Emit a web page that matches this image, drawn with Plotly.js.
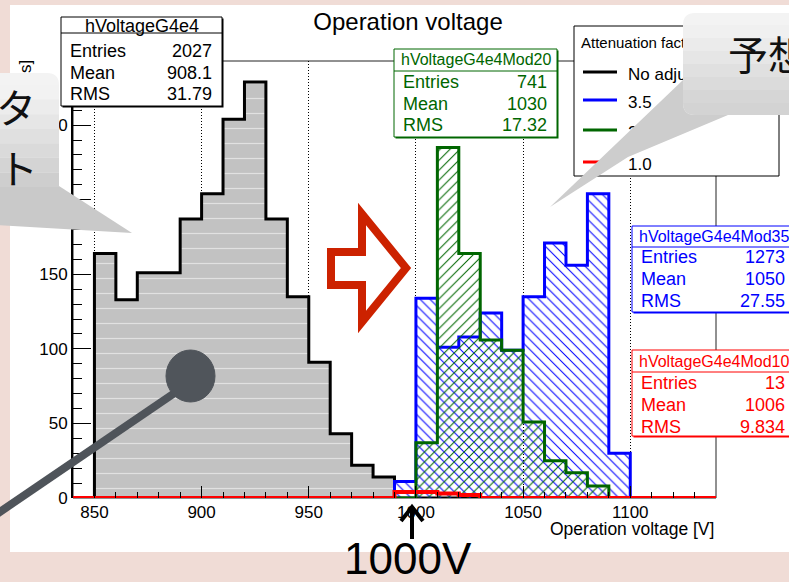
<!DOCTYPE html>
<html><head><meta charset="utf-8">
<script src="https://cdn.plot.ly/plotly-3.0.1.min.js"></script>
<style>html,body{margin:0;padding:0;background:#f0dcd6;overflow:hidden;} #chart{width:789px;height:582px;}</style>
</head><body><div id="chart"></div>
<script>
// ---------------- data ----------------
const binEdges = [840,850,860,870,880,890,900,910,920,930,940,950,960,970,980,990,1000,1010,1020,1030,1040,1050,1060,1070,1080,1090,1100,1110,1120,1130,1140];
const noAdjust = [0,164,133,151,151,187,204,254,279,187,135,91,43,22,14,0,0,0,0,0,0,0,0,0,0,0,0,0,0,0];
const att35    = [0,0,0,0,0,0,0,0,0,0,0,0,0,0,0,11,134,101,108,124,99,135,171,156,204,30,0,0,0,0];
const att20    = [0,0,0,0,0,0,0,0,0,0,0,0,0,0,0,0,37,235,164,106,99,51,25,17,8,0,0,0,0,0];
const att10    = [0,0,0,0,0,0,0,0,0,0,0,0,0,0,0,4,4,3,2,0,0,0,0,0,0,0,0,0,0,0];
const xTicks = [850,900,950,1000,1050,1100];
const yTicks = [0,50,100,150,200,250];
const statNames   = ['hVoltageG4e4','hVoltageG4e4Mod20','hVoltageG4e4Mod35','hVoltageG4e4Mod10'];
const statEntries = ['2027','741','1273','13'];
const statMeans   = ['908.1','1030','1050','1006'];
const statRMS     = ['31.79','17.32','27.55','9.834'];
const statLabels  = ['Entries','Mean','RMS'];
const legendHeader = 'Attenuation factor';
const legendLabels = ['No adjustment','3.5','2.0','1.0'];
const titleText = 'Operation voltage';
const xTitleText = 'Operation voltage [V]';
const yTitleVisible = 's]';

// ---------------- layout helpers (pixel -> paper) ----------------
const W=789, H=582, PL=73, PR=716, PT=61, PB=498;
const fx = px => (px-PL)/(PR-PL);
const fy = py => (PB-py)/(PB-PT);
const P = (px,py) => fx(px).toFixed(5)+','+fy(py).toFixed(5);
const FONT = 'Liberation Sans, Arial, Helvetica, sans-serif';
const JFONT = 'Noto Sans CJK JP, sans-serif';

const colors = ['#000000','#006600','#0000ff','#ff0000'];
const seriesColors = ['#000000','#0000ff','#006600','#ff0000'];

// ---------------- traces ----------------
function step(vals, color, width, fillcolor, pattern){
  const t = {type:'scatter', mode:'lines', x:binEdges, y:vals.concat([vals[vals.length-1]]),
    line:{shape:'hv', color:color, width:width}, cliponaxis:false, hoverinfo:'skip'};
  if (fillcolor){ t.fill='tozeroy'; t.fillcolor=fillcolor; }
  if (pattern){ t.fillpattern = pattern; }
  return t;
}
const traces = [
  step(noAdjust, seriesColors[0], 3, '#c2c2c2', {shape:'-', fgcolor:'#ffffff', fillmode:'overlay', size:15, solidity:0.08}),
  step(att35, seriesColors[1], 3, 'rgba(0,0,0,0)', {shape:'\\', fgcolor:'#0000ff', bgcolor:'rgba(0,0,0,0)', size:7, solidity:0.15}),
  step(att20, seriesColors[2], 3, 'rgba(0,0,0,0)', {shape:'/', fgcolor:'#006600', bgcolor:'rgba(0,0,0,0)', size:7, solidity:0.15}),
  step(att10, seriesColors[3], 4, null, null)
];

// ---------------- shapes ----------------
const shapes = [];
const annotations = [];
function rectPx(x0,y0,x1,y1,opt){ return Object.assign({type:'rect', xref:'paper', yref:'paper', x0:fx(x0), x1:fx(x1), y0:fy(y1), y1:fy(y0), layer:'above'}, opt); }
function linePx(x0,y0,x1,y1,color,width){ return {type:'line', xref:'paper', yref:'paper', x0:fx(x0), y0:fy(y0), x1:fx(x1), y1:fy(y1), line:{color:color,width:width}, layer:'above'}; }
function pathPx(d, opt){ return Object.assign({type:'path', xref:'paper', yref:'paper', path:d, layer:'above'}, opt); }
function txt(px,py,text,size,color,xanchor,extra){
  annotations.push(Object.assign({xref:'paper', yref:'paper', x:fx(px), y:fy(py), text:text, showarrow:false,
    xanchor:xanchor||'left', yanchor:'middle', font:{family:FONT, size:size, color:color||'#000'}}, extra||{}));
}
function shapeText(px,py,text,size,color){
  shapes.push(rectPx(px,py-11,px+260,py+11,{line:{width:0}, fillcolor:'rgba(0,0,0,0)',
    label:{text:text, textposition:'middle left', padding:0, font:{family:FONT,size:size,color:color}}}));
}

// slide background + frame
shapes.push(rectPx(10,5,805,552,{fillcolor:'#ffffff', line:{width:0}, layer:'below'}));
shapes.push({type:'rect', xref:'paper', yref:'paper', x0:0,x1:1,y0:0,y1:1, line:{color:'#222',width:1}, layer:'below'});

// red outline arrow
shapes.push(pathPx('M'+P(331,252)+' L'+P(362,252)+' L'+P(362,214)+' L'+P(406,268)+' L'+P(362,322)+' L'+P(362,285)+' L'+P(331,285)+' Z',
  {line:{color:'#cc2200',width:8}, fillcolor:'rgba(0,0,0,0)'}));

// hand drawn pointer
shapes.push(pathPx('M'+P(176,392)+' L'+P(-12,520), {line:{color:'#4f545a',width:8}}));
shapes.push({type:'circle', xref:'paper', yref:'paper', x0:fx(166), x1:fx(215), y0:fy(402), y1:fy(350), fillcolor:'#50555b', line:{color:'#50555b',width:1}, layer:'above'});

// stat boxes
const boxGeo = [
  {x0:61, x1:222, y0:17, ys:33, y1:106, tsize:18, ty:25.5, rows:[51,73,94]},
  {x0:394,x1:557, y0:49, ys:71, y1:137, tsize:16, ty:60,  rows:[82,104,125]},
  {x0:632,x1:795, y0:226,ys:247,y1:312, tsize:16, ty:236.5,rows:[257,279,301]},
  {x0:632,x1:795, y0:350,ys:372,y1:436, tsize:16, ty:361, rows:[383,405,427]}
];
boxGeo.forEach((g,i)=>{
  const c = colors[i];
  shapes.push(rectPx(g.x0+1.5,g.y0+1.5,g.x1+1.5,g.y1+1.5,{fillcolor:c, line:{width:0}}));
  shapes.push(rectPx(g.x0,g.y0,g.x1,g.y1,{fillcolor:'#ffffff', line:{color:c,width:1}}));
  shapes.push(linePx(g.x0,g.ys,g.x1,g.ys,c,1));
  txt((g.x0+g.x1)/2, g.ty, statNames[i], g.tsize, c, 'center');
  const vals = [statEntries[i], statMeans[i], statRMS[i]];
  statLabels.forEach((lab,k)=>{
    txt(g.x0+7, g.rows[k], lab, 18, c, 'left');
    txt(g.x1-8, g.rows[k], vals[k], 18, c, 'right');
  });
});

// legend box (texts as shape labels so the callout can cover them)
shapes.push(rectPx(574,26,779,176,{fillcolor:'#ffffff', line:{color:'#000',width:1}}));
shapeText(578, 41, legendHeader, 15, '#000');
const legY = [72,100,130,162];
legendLabels.forEach((lab,i)=>{
  shapes.push(linePx(583,legY[i],617,legY[i],seriesColors[i],3));
  shapeText(625, legY[i], lab, 17, '#000');
});

// right callout bubble
shapes.push(pathPx('M'+P(683,80)+' L'+P(550,207)+' L'+P(628,157)+' L'+P(728,115)+' Z', {fillcolor:'#cdcdcd', line:{width:0}}));
shapes.push(pathPx('M'+P(695,13)+' L'+P(805,13)+' L'+P(805,115)+' L'+P(695,115)+' Q'+P(683,115)+' '+P(683,103)+' L'+P(683,25)+' Q'+P(683,13)+' '+P(695,13)+' Z', {fillcolor:'#f3f3f3', line:{width:0}}));
(function(){
  const c0=[240,240,240], c1=[214,214,214], n=6, yA=25, yB=103;
  for(let k=0;k<n;k++){
    const t=k/(n-1); const c=c0.map((v,j)=>Math.round(v+(c1[j]-v)*t));
    shapes.push(rectPx(683, yA+k*(yB-yA)/n, 805, yA+(k+1)*(yB-yA)/n, {fillcolor:'rgb('+c.join(',')+')', line:{width:0}}));
  }
  shapes.push(pathPx('M'+P(683,103)+' L'+P(805,103)+' L'+P(805,115)+' L'+P(695,115)+' Q'+P(683,115)+' '+P(683,103)+' Z', {fillcolor:'#d3d3d3', line:{width:0}}));
})();

// left callout bubble
shapes.push(pathPx('M'+P(-20,186)+' L'+P(59,186)+' L'+P(132,233)+' L'+P(-20,224)+' Z', {fillcolor:'#c9c9c9', line:{width:0}}));
shapes.push(pathPx('M'+P(-20,73)+' L'+P(47,73)+' Q'+P(59,73)+' '+P(59,85)+' L'+P(59,187)+' L'+P(-20,187)+' Z', {fillcolor:'#f3f3f3', line:{width:0}}));
(function(){
  const c0=[242,242,242], c1=[206,206,206], n=7, yA=85, yB=187;
  for(let k=0;k<n;k++){
    const t=k/(n-1); const c=c0.map((v,j)=>Math.round(v+(c1[j]-v)*t));
    shapes.push(rectPx(-20, yA+k*(yB-yA)/n, 59, yA+(k+1)*(yB-yA)/n, {fillcolor:'rgb('+c.join(',')+')', line:{width:0}}));
  }
})();

// 1000V arrow
shapes.push(pathPx('M'+P(412,539)+' L'+P(412,508), {line:{color:'#000',width:4}}));
shapes.push(pathPx('M'+P(401,521)+' L'+P(412,507)+' L'+P(423,521), {line:{color:'#000',width:4}, fillcolor:'rgba(0,0,0,0)'}));

// ---------------- annotations ----------------
txt(716, 529, xTitleText, 17.5, '#000', 'right');
txt(26, 67, yTitleVisible, 17, '#000', 'center', {textangle:-90});
txt(16, 106, 'タ', 40, '#000', 'center', {font:{family:JFONT,size:40,color:'#111'}});
txt(18, 167, 'ト', 40, '#000', 'center', {font:{family:JFONT,size:40,color:'#111'}});
txt(726, 53, '予想', 40, '#000', 'left', {font:{family:JFONT,size:40,color:'#111'}});
txt(408, 558, '1000V', 44, '#000', 'center');

const layout = {
  width:W, height:H,
  margin:{l:PL, r:W-PR, t:PT, b:H-PB, pad:0},
  paper_bgcolor:'#f0dcd6', plot_bgcolor:'#ffffff',
  showlegend:false,
  font:{family:FONT, color:'#000'},
  title:{text:titleText, font:{family:FONT,size:24,color:'#000'}, xref:'container', x:408/W, xanchor:'center', yref:'container', y:1-22/H, yanchor:'middle'},
  xaxis:{range:[840,1140], tickvals:xTicks, ticks:'inside', ticklen:12, tickwidth:1, tickcolor:'#000',
    minor:{ticks:'inside', dtick:10, tick0:840, ticklen:6, tickcolor:'#000', showgrid:false},
    showgrid:true, gridcolor:'#000', gridwidth:1, griddash:'1px,2px', zeroline:false, showline:false,
    layer:'above traces', tickfont:{size:17, family:FONT}, ticklabelstandoff:2, fixedrange:true},
  yaxis:{range:[0,293], tickvals:yTicks, ticks:'inside', ticklen:18, tickwidth:1, tickcolor:'#000',
    minor:{ticks:'inside', dtick:10, ticklen:9, tickcolor:'#000', showgrid:false},
    showgrid:false, zeroline:false, showline:true, linewidth:2, linecolor:'#000',
    layer:'above traces', tickfont:{size:17, family:FONT}, fixedrange:true},
  shapes:shapes, annotations:annotations
};
Plotly.newPlot('chart', traces, layout, {displayModeBar:false, staticPlot:true});
</script></body></html>
